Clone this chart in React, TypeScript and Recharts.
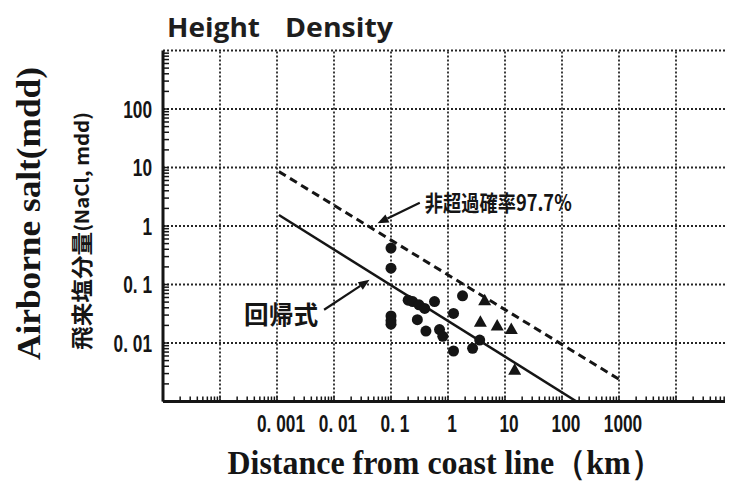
import React from 'react';
import {
  ComposedChart, Line, Scatter, XAxis, YAxis,
  ReferenceLine, ReferenceDot,
} from 'recharts';

// distance from coast (km) / airborne salt (mdd)
const circles = [
  { d: 0.1, v: 0.42 }, { d: 0.1, v: 0.19 }, { d: 0.1, v: 0.029 }, { d: 0.1, v: 0.024 },
  { d: 0.1, v: 0.021 }, { d: 0.2, v: 0.054 }, { d: 0.24, v: 0.051 }, { d: 0.31, v: 0.045 },
  { d: 0.39, v: 0.039 }, { d: 0.58, v: 0.051 }, { d: 0.29, v: 0.025 }, { d: 0.41, v: 0.016 },
  { d: 0.71, v: 0.017 }, { d: 0.81, v: 0.013 }, { d: 1.25, v: 0.032 }, { d: 1.8, v: 0.064 },
  { d: 1.25, v: 0.0073 }, { d: 2.7, v: 0.0081 }, { d: 3.6, v: 0.0112 },
];
const triangles = [
  { d: 4.4, v: 0.054 }, { d: 3.7, v: 0.023 }, { d: 7.3, v: 0.02 },
  { d: 12.9, v: 0.0174 }, { d: 14.8, v: 0.0035 },
];
const regression = [{ d: 0.00108, v: 1.54 }, { d: 180, v: 0.001 }];
const upper977 = [{ d: 0.00108, v: 8.5 }, { d: 1000, v: 0.0024 }];

// annotation anchors (data coords)
const upperArrow = [{ x: 0.32, y: 2.5 }, { x: 0.058, y: 1.11 }];
const regArrow = [{ x: 0.0067, y: 0.037 }, { x: 0.042, y: 0.12 }];
const upperNote = { d: 7.6, v: 2.67, text: '非超過確率97.7%' };
const regNote = { d: 0.00118, v: 0.0332, text: '回帰式' };

const xDomain = [1e-5, 1e5];
const yDomain = [0.001, 1000];
const xGrid = [1e-4, 0.001, 0.01, 0.1, 1, 10, 100, 1000, 1e4];
const yGrid = [0.01, 0.1, 1, 10, 100, 1000];
const xTickLabels: Record<string, string> = {
  '0.001': '0. 001', '0.01': '0. 01', '0.1': '0. 1', '1': '1', '10': '10', '100': '100', '1000': '1000',
};
const yTickLabels: Record<string, string> = {
  '0.01': '0. 01', '0.1': '0. 1', '1': '1', '10': '10', '100': '100',
};

// log-axis minor tick positions (1..9 per decade)
function logMinor(lo: number, hi: number) {
  const out: number[] = [];
  for (let e = lo; e < hi; e++) for (let m = 1; m < 10; m++) out.push(+(m * Math.pow(10, e)).toPrecision(6));
  return out;
}
const xTicks = logMinor(-5, 5);
const yTicks = logMinor(-3, 3);

const W = 725;
const H = 473;
const INK = '#151515';
const GRID = '#262626';
const tickFont = {
  fontFamily: "'Liberation Sans', Arial, sans-serif",
  fontWeight: 700,
  fontSize: 24,
  fill: INK,
};

function XTick({ x, y, payload }: any) {
  const label = xTickLabels[String(payload.value)];
  return (
    <g>
      <line x1={x} y1={y} x2={x} y2={y - 5} stroke={INK} strokeWidth={1.5} />
      {label && (
        <text transform={`translate(${x + 4},${y + 30.5}) scale(0.72,1)`} textAnchor="middle" {...tickFont}>
          {label}
        </text>
      )}
    </g>
  );
}

function YTick({ x, y, payload }: any) {
  const label = yTickLabels[String(payload.value)];
  return (
    <g>
      <line x1={x} y1={y} x2={x + 6} y2={y} stroke={INK} strokeWidth={1.5} />
      {label && (
        <text transform={`translate(${x - 11},${y + 8.5}) scale(0.72,1)`} textAnchor="end" {...tickFont}>
          {label}
        </text>
      )}
    </g>
  );
}

function Circle({ cx, cy }: any) {
  return <circle cx={cx} cy={cy} r={5.5} fill={INK} />;
}

function Tri({ cx, cy }: any) {
  return <polygon points={`${cx},${cy - 6.5} ${cx + 6.5},${cy + 5} ${cx - 6.5},${cy + 5}`} fill={INK} />;
}

function Arrow({ x1, y1, x2, y2 }: any) {
  const a = Math.atan2(y2 - y1, x2 - x1);
  const len = 11;
  const half = 4.5;
  const bx = x2 - len * Math.cos(a);
  const by = y2 - len * Math.sin(a);
  const px = -Math.sin(a) * half;
  const py = Math.cos(a) * half;
  return (
    <g>
      <line x1={x1} y1={y1} x2={bx} y2={by} stroke={INK} strokeWidth={2.2} />
      <polygon points={`${x2},${y2} ${bx + px},${by + py} ${bx - px},${by - py}`} fill={INK} />
    </g>
  );
}

function Note({ cx, cy, text, size, length }: any) {
  return (
    <text
      x={cx}
      y={cy}
      textAnchor="middle"
      dominantBaseline="central"
      fontFamily="'Noto Sans CJK JP', sans-serif"
      fontWeight={700}
      fontSize={size}
      fill={INK}
      textLength={length}
      lengthAdjust="spacingAndGlyphs"
    >
      {text}
    </text>
  );
}

export default function App() {
  return (
    <div style={{ width: W, height: H, background: '#fff' }}>
      <ComposedChart width={W} height={H} margin={{ top: 42.5, right: 0, bottom: 49.5, left: 95 }}>
        {xGrid.map((g) => (
          <ReferenceLine key={`gx${g}`} x={g} stroke={GRID} strokeWidth={1.8} strokeDasharray="2 2" />
        ))}
        {yGrid.map((g) => (
          <ReferenceLine key={`gy${g}`} y={g} stroke={GRID} strokeWidth={1.8} strokeDasharray="2 2" />
        ))}
        <XAxis
          dataKey="d"
          type="number"
          scale="log"
          domain={xDomain}
          allowDataOverflow
          ticks={xTicks}
          interval={0}
          tick={<XTick />}
          tickLine={false}
          tickSize={0}
          tickMargin={0}
          axisLine={{ stroke: INK, strokeWidth: 3 }}
        />
        <YAxis
          dataKey="v"
          type="number"
          scale="log"
          domain={yDomain}
          allowDataOverflow
          ticks={yTicks}
          interval={0}
          width={60}
          tick={<YTick />}
          tickLine={false}
          tickSize={0}
          tickMargin={0}
          axisLine={{ stroke: INK, strokeWidth: 3 }}
        />
        <Line data={upper977} dataKey="v" stroke={INK} strokeWidth={3} strokeDasharray="8 5" dot={false} isAnimationActive={false} />
        <Line data={regression} dataKey="v" stroke={INK} strokeWidth={2.5} dot={false} isAnimationActive={false} />
        <Scatter data={circles} dataKey="v" shape={<Circle />} isAnimationActive={false} />
        <Scatter data={triangles} dataKey="v" shape={<Tri />} isAnimationActive={false} />
        <ReferenceLine segment={upperArrow} shape={(p: any) => <Arrow {...p} />} />
        <ReferenceLine segment={regArrow} shape={(p: any) => <Arrow {...p} />} />
        <ReferenceDot
          x={upperNote.d}
          y={upperNote.v}
          r={0}
          shape={(p: any) => <Note cx={p.cx} cy={p.cy} text={upperNote.text} size={22} length={147} />}
        />
        <ReferenceDot
          x={regNote.d}
          y={regNote.v}
          r={0}
          shape={(p: any) => <Note cx={p.cx} cy={p.cy} text={regNote.text} size={25} length={74} />}
        />

        <text x={159} y={29} fontFamily="'Open Sans', sans-serif" fontWeight={700} fontSize={27} fill="#1e1e1e" textLength={93} lengthAdjust="spacingAndGlyphs">Height</text>
        <text x={277} y={29} fontFamily="'Open Sans', sans-serif" fontWeight={700} fontSize={27} fill="#1e1e1e" textLength={108} lengthAdjust="spacingAndGlyphs">Density</text>
        <text
          x={20}
          y={205.5}
          transform="rotate(-90 20 205.5)"
          textAnchor="middle"
          dominantBaseline="central"
          fontFamily="'Liberation Serif', 'Times New Roman', serif"
          fontWeight={700}
          fontSize={34}
          fill={INK}
          textLength={293}
          lengthAdjust="spacingAndGlyphs"
        >
          Airborne salt(mdd)
        </text>
        <text
          x={72}
          y={223}
          transform="rotate(-90 72 223)"
          textAnchor="middle"
          dominantBaseline="central"
          fontFamily="'Noto Sans CJK JP', sans-serif"
          fontWeight={700}
          fontSize={22}
          fill={INK}
          textLength={238}
          lengthAdjust="spacingAndGlyphs"
        >
          飛来塩分量<tspan fontSize={19}>(NaCl, mdd)</tspan>
        </text>
        <text
          x={437}
          y={466}
          textAnchor="middle"
          fontFamily="'Liberation Serif', 'Times New Roman', serif"
          fontWeight={700}
          fontSize={34}
          fill={INK}
          textLength={435}
          lengthAdjust="spacingAndGlyphs"
        >
          Distance from coast line（km）
        </text>
      </ComposedChart>
    </div>
  );
}
